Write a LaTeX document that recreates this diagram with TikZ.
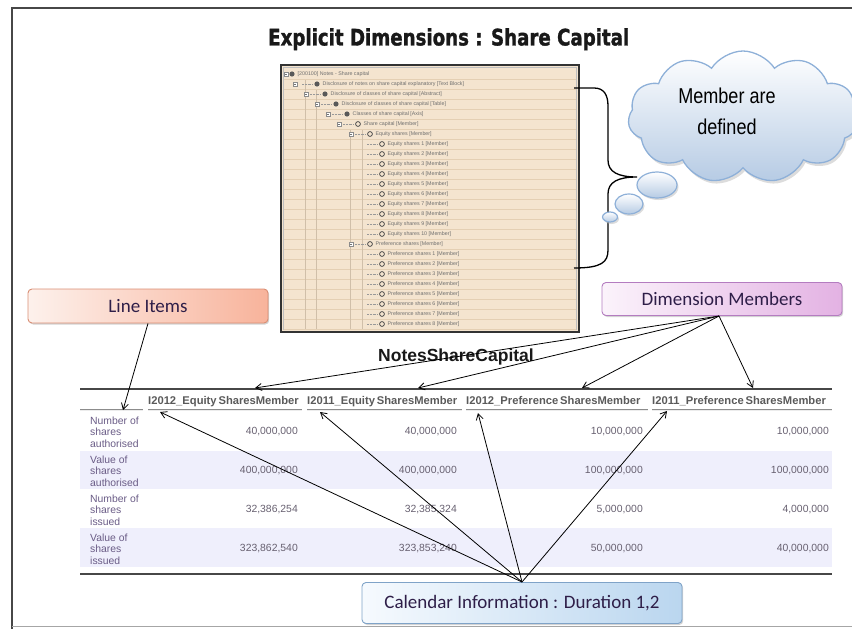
\documentclass[tikz,border=0pt]{standalone}
\usepackage{fontspec}
\setmainfont{Liberation Sans}
\newfontfamily\calib{Carlito}
\newfontfamily\titlefont{DejaVu Sans}[BoldFeatures={FakeBold=1.5}]
\usetikzlibrary{shapes.symbols,shapes.geometric,shadows,arrows.meta,calc}
\definecolor{tanfill}{HTML}{F4E4CF}
\definecolor{tanline}{HTML}{E4CFB3}
\definecolor{treetext}{HTML}{6E6E6E}
\definecolor{cloudb}{HTML}{8EB0D8}
\definecolor{cloudf}{HTML}{B6CBE4}
\definecolor{liL}{HTML}{FDF1EC}
\definecolor{liR}{HTML}{F8B39B}
\definecolor{liB}{HTML}{D98E74}
\definecolor{dmL}{HTML}{FBF3FB}
\definecolor{dmR}{HTML}{E3B2E3}
\definecolor{dmB}{HTML}{B47CC0}
\definecolor{caL}{HTML}{F6FAFE}
\definecolor{caR}{HTML}{BAD6EF}
\definecolor{caB}{HTML}{7FA3C8}
\definecolor{boxtext}{HTML}{2E1E48}
\definecolor{hdrtext}{HTML}{5A5A5A}
\definecolor{rowlab}{HTML}{6A5C86}
\definecolor{valtext}{HTML}{676070}
\definecolor{lav}{HTML}{EFEFFC}
\tikzset{
  labelbox/.style={draw, line width=0.9pt, rounded corners=4pt, inner sep=0pt,
    font=\calib\fontsize{19}{22}\selectfont, text=boxtext,
    drop shadow={shadow xshift=1.2pt, shadow yshift=-1.5pt, opacity=0.35}},
  conn/.style={-{Straight Barb[length=6pt,width=7pt]}, line width=0.8pt, black},
  bubble/.style={ellipse, draw=cloudb, line width=1.2pt, top color=white, bottom color=cloudf, inner sep=0pt,
    drop shadow={shadow xshift=1.5pt, shadow yshift=-2pt, fill=gray!55}},
  treerow/.style={anchor=west, inner sep=0pt, text=treetext, font=\fontsize{5.3}{6}\selectfont},
  hdr/.style={anchor=base west, inner sep=0pt, text=hdrtext, font=\bfseries\fontsize{11.2}{13}\selectfont},
  rlab/.style={anchor=west, inner sep=0pt, align=left, text=rowlab, font=\fontsize{10.4}{11.6}\selectfont},
  val/.style={anchor=east, inner sep=0pt, text=valtext, font=\fontsize{10.4}{12}\selectfont},
  titletext/.style={anchor=north west, inner sep=0pt},
}
\begin{document}
\begin{tikzpicture}[x=1pt,y=-1pt]
\useasboundingbox (0,0) rectangle (852,629);
% frame
\draw[line width=1.5pt, black!72] (852,8) -- (12,8) -- (12,629);
\draw[line width=1pt, black!35] (12,626) -- (852,626);

% title
\node[titletext, text=black!90] (title) at (268,28) {\resizebox*{361pt}{22pt}{\titlefont\bfseries Explicit Dimensions : Share Capital}};

% screenshot of the tree
\draw[fill=tanfill, draw=black!80, line width=1.4pt] (281,65) rectangle (579,332);
\draw[draw=black!25, line width=0.5pt] (283.5,67.5) rectangle (576.5,329.5);
\foreach \r in {0,...,25} { \draw[tanline, line width=0.6pt] (284,79+10*\r) -- (576,79+10*\r); }
\foreach \vx/\vy in {305/80,316/90,350/130,362/130} { \draw[tanline!80!gray, line width=0.5pt] (\vx,\vy) -- (\vx,329); }
\foreach \r/\ix/\t in {
 0/292/{[200100] Notes - Share capital},
 1/317/{Disclosure of notes on share capital explanatory [Text Block]},
 2/325/{Disclosure of classes of share capital [Abstract]},
 3/336/{Disclosure of classes of share capital [Table]},
 4/347/{Classes of share capital [Axis]},
 5/358/{Share capital [Member]},
 6/370/{Equity shares [Member]},
 7/382/{Equity shares 1 [Member]},
 8/382/{Equity shares 2 [Member]},
 9/382/{Equity shares 3 [Member]},
 10/382/{Equity shares 4 [Member]},
 11/382/{Equity shares 5 [Member]},
 12/382/{Equity shares 6 [Member]},
 13/382/{Equity shares 7 [Member]},
 14/382/{Equity shares 8 [Member]},
 15/382/{Equity shares 9 [Member]},
 16/382/{Equity shares 10 [Member]},
 17/370/{Preference shares [Member]},
 18/382/{Preference shares 1 [Member]},
 19/382/{Preference shares 2 [Member]},
 20/382/{Preference shares 3 [Member]},
 21/382/{Preference shares 4 [Member]},
 22/382/{Preference shares 5 [Member]},
 23/382/{Preference shares 6 [Member]},
 24/382/{Preference shares 7 [Member]},
 25/382/{Preference shares 8 [Member]}} {
  \node[treerow] at (\ix+5.5,74+10*\r) {\t};
  \ifnum\r<5
    \fill[black!65] (\ix,74+10*\r) circle (2.6pt);
  \else
    \draw[black!70, line width=0.8pt] (\ix,74+10*\r) circle (2.4pt);
  \fi
  \ifnum\r>0
    \draw[black!40, line width=0.4pt, densely dotted] (\ix-15,74+10*\r) -- (\ix-5,74+10*\r);
  \fi
}
\foreach \r/\bx in {0/284,1/293,2/304,3/315,4/326,5/337,6/349,17/349} {
  \draw[black!45, fill=white, line width=0.4pt] (\bx,72+10*\r) rectangle (\bx+4,76+10*\r);
  \draw[black!55, line width=0.4pt] (\bx+1,74+10*\r) -- (\bx+3,74+10*\r);
}

% brace to the thought bubble
\coordinate (bt) at (574,88);
\coordinate (bb) at (574,268);
\coordinate (btip) at (637,177);
\draw[line width=1.3pt, black] (bt) -- (594,88) .. controls (604,88) and (608,95) .. (608,106) -- (608,160)
  .. controls (608,172) and (618,177) .. (btip)
  .. controls (618,177) and (608,182) .. (608,194) -- (608,250)
  .. controls (608,262) and (602,268) .. (bb);

% cloud and bubbles
\node[cloud, cloud puffs=11, cloud puff arc=115, aspect=1.75, draw=cloudb, line width=1.3pt,
  top color=white, bottom color=cloudf, minimum width=230pt, minimum height=132pt, inner sep=0pt,
  drop shadow={shadow xshift=2pt, shadow yshift=-3pt, fill=gray!55}] (cloud) at (743,117) {};
\node[align=center, inner sep=0pt, font=\fontsize{21.5}{31}\selectfont] (cloudtext) at (727,111)
  {\scalebox{0.84}[1]{Member are}\\\scalebox{0.84}[1]{defined}};
\node[bubble, minimum width=40pt, minimum height=26pt] (b1) at (657,185) {};
\node[bubble, minimum width=28pt, minimum height=20pt] (b2) at (629,204) {};
\node[bubble, minimum width=15pt, minimum height=10pt] (b3) at (610,217) {};

% label boxes
\node[labelbox, draw=liB, left color=liL, right color=liR, minimum width=240pt, minimum height=34pt] (lineitems) at (148,306) {Line Items};
\node[labelbox, draw=dmB, left color=dmL, right color=dmR, minimum width=240pt, minimum height=33pt] (dimmem) at (722,299) {Dimension Members};
\node[labelbox, draw=caB, left color=caL, right color=caR, minimum width=320pt, minimum height=41pt] (calendar) at (522,603) {Calendar Information : Duration 1,2};

% table
\node[inner sep=0pt, font=\bfseries\fontsize{17.5}{20}\selectfont, text=black!90] (tabtitle) at (456,357) {NotesShareCapital};
\fill[lav] (80,451) rectangle (832,489);
\fill[lav] (80,528) rectangle (832,567);
\draw[line width=2.4pt, black!72] (80,389) -- (832,389);
\draw[line width=2.4pt, black!72] (80,574) -- (832,574);
\foreach \a/\b in {80/143,148/302,307/462,466/648,652/832} {
  \draw[line width=2pt, black!45] (\a,410) -- (\b,410);
  \draw[line width=0.5pt, white!85!gray] (\a,410) -- (\b,410);
}
\node[hdr] (h1) at (148,404) {I2012\_Equity\,SharesMember};
\node[hdr] (h2) at (307,404) {I2011\_Equity\,SharesMember};
\node[hdr] (h3) at (466,404) {I2012\_Preference\,SharesMember};
\node[hdr] (h4) at (652,404) {I2011\_Preference\,SharesMember};

\node[rlab] (r1) at (90,432) {Number of\\shares\\authorised};
\node[rlab] (r2) at (90,471) {Value of\\shares\\authorised};
\node[rlab] (r3) at (90,510) {Number of\\shares\\issued};
\node[rlab] (r4) at (90,549) {Value of\\shares\\issued};

\node[val] (v11) at (298,432) {40,000,000};
\node[val] (v12) at (457,432) {40,000,000};
\node[val] (v13) at (643,432) {10,000,000};
\node[val] (v14) at (829,432) {10,000,000};
\node[val] (v21) at (298,471) {400,000,000};
\node[val] (v22) at (457,471) {400,000,000};
\node[val] (v23) at (643,471) {100,000,000};
\node[val] (v24) at (829,471) {100,000,000};
\node[val] (v31) at (298,510) {32,386,254};
\node[val] (v32) at (457,510) {32,385,324};
\node[val] (v33) at (643,510) {5,000,000};
\node[val] (v34) at (829,510) {4,000,000};
\node[val] (v41) at (298,549) {323,862,540};
\node[val] (v42) at (457,549) {323,853,240};
\node[val] (v43) at (643,549) {50,000,000};
\node[val] (v44) at (829,549) {40,000,000};

% connector targets
\coordinate (lt) at (123,410);
\coordinate (d1) at (255,388);
\coordinate (d2) at (418,388);
\coordinate (d3) at (582,388);
\coordinate (d4) at (753,388);
\coordinate (c1) at (160,412);
\coordinate (c2) at (320,412);
\coordinate (c3) at (478,413);
\coordinate (c4) at (667,411);
\coordinate (ds) at (719,316);
\coordinate (cs) at (522,582);

% connectors
\draw[conn] (lineitems.south) -- (lt);
\foreach \t in {d1,d2,d3,d4} { \draw[conn] (ds) -- (\t); }
\foreach \t in {c1,c2,c3,c4} { \draw[conn] (cs) -- (\t); }
\end{tikzpicture}
\end{document}
